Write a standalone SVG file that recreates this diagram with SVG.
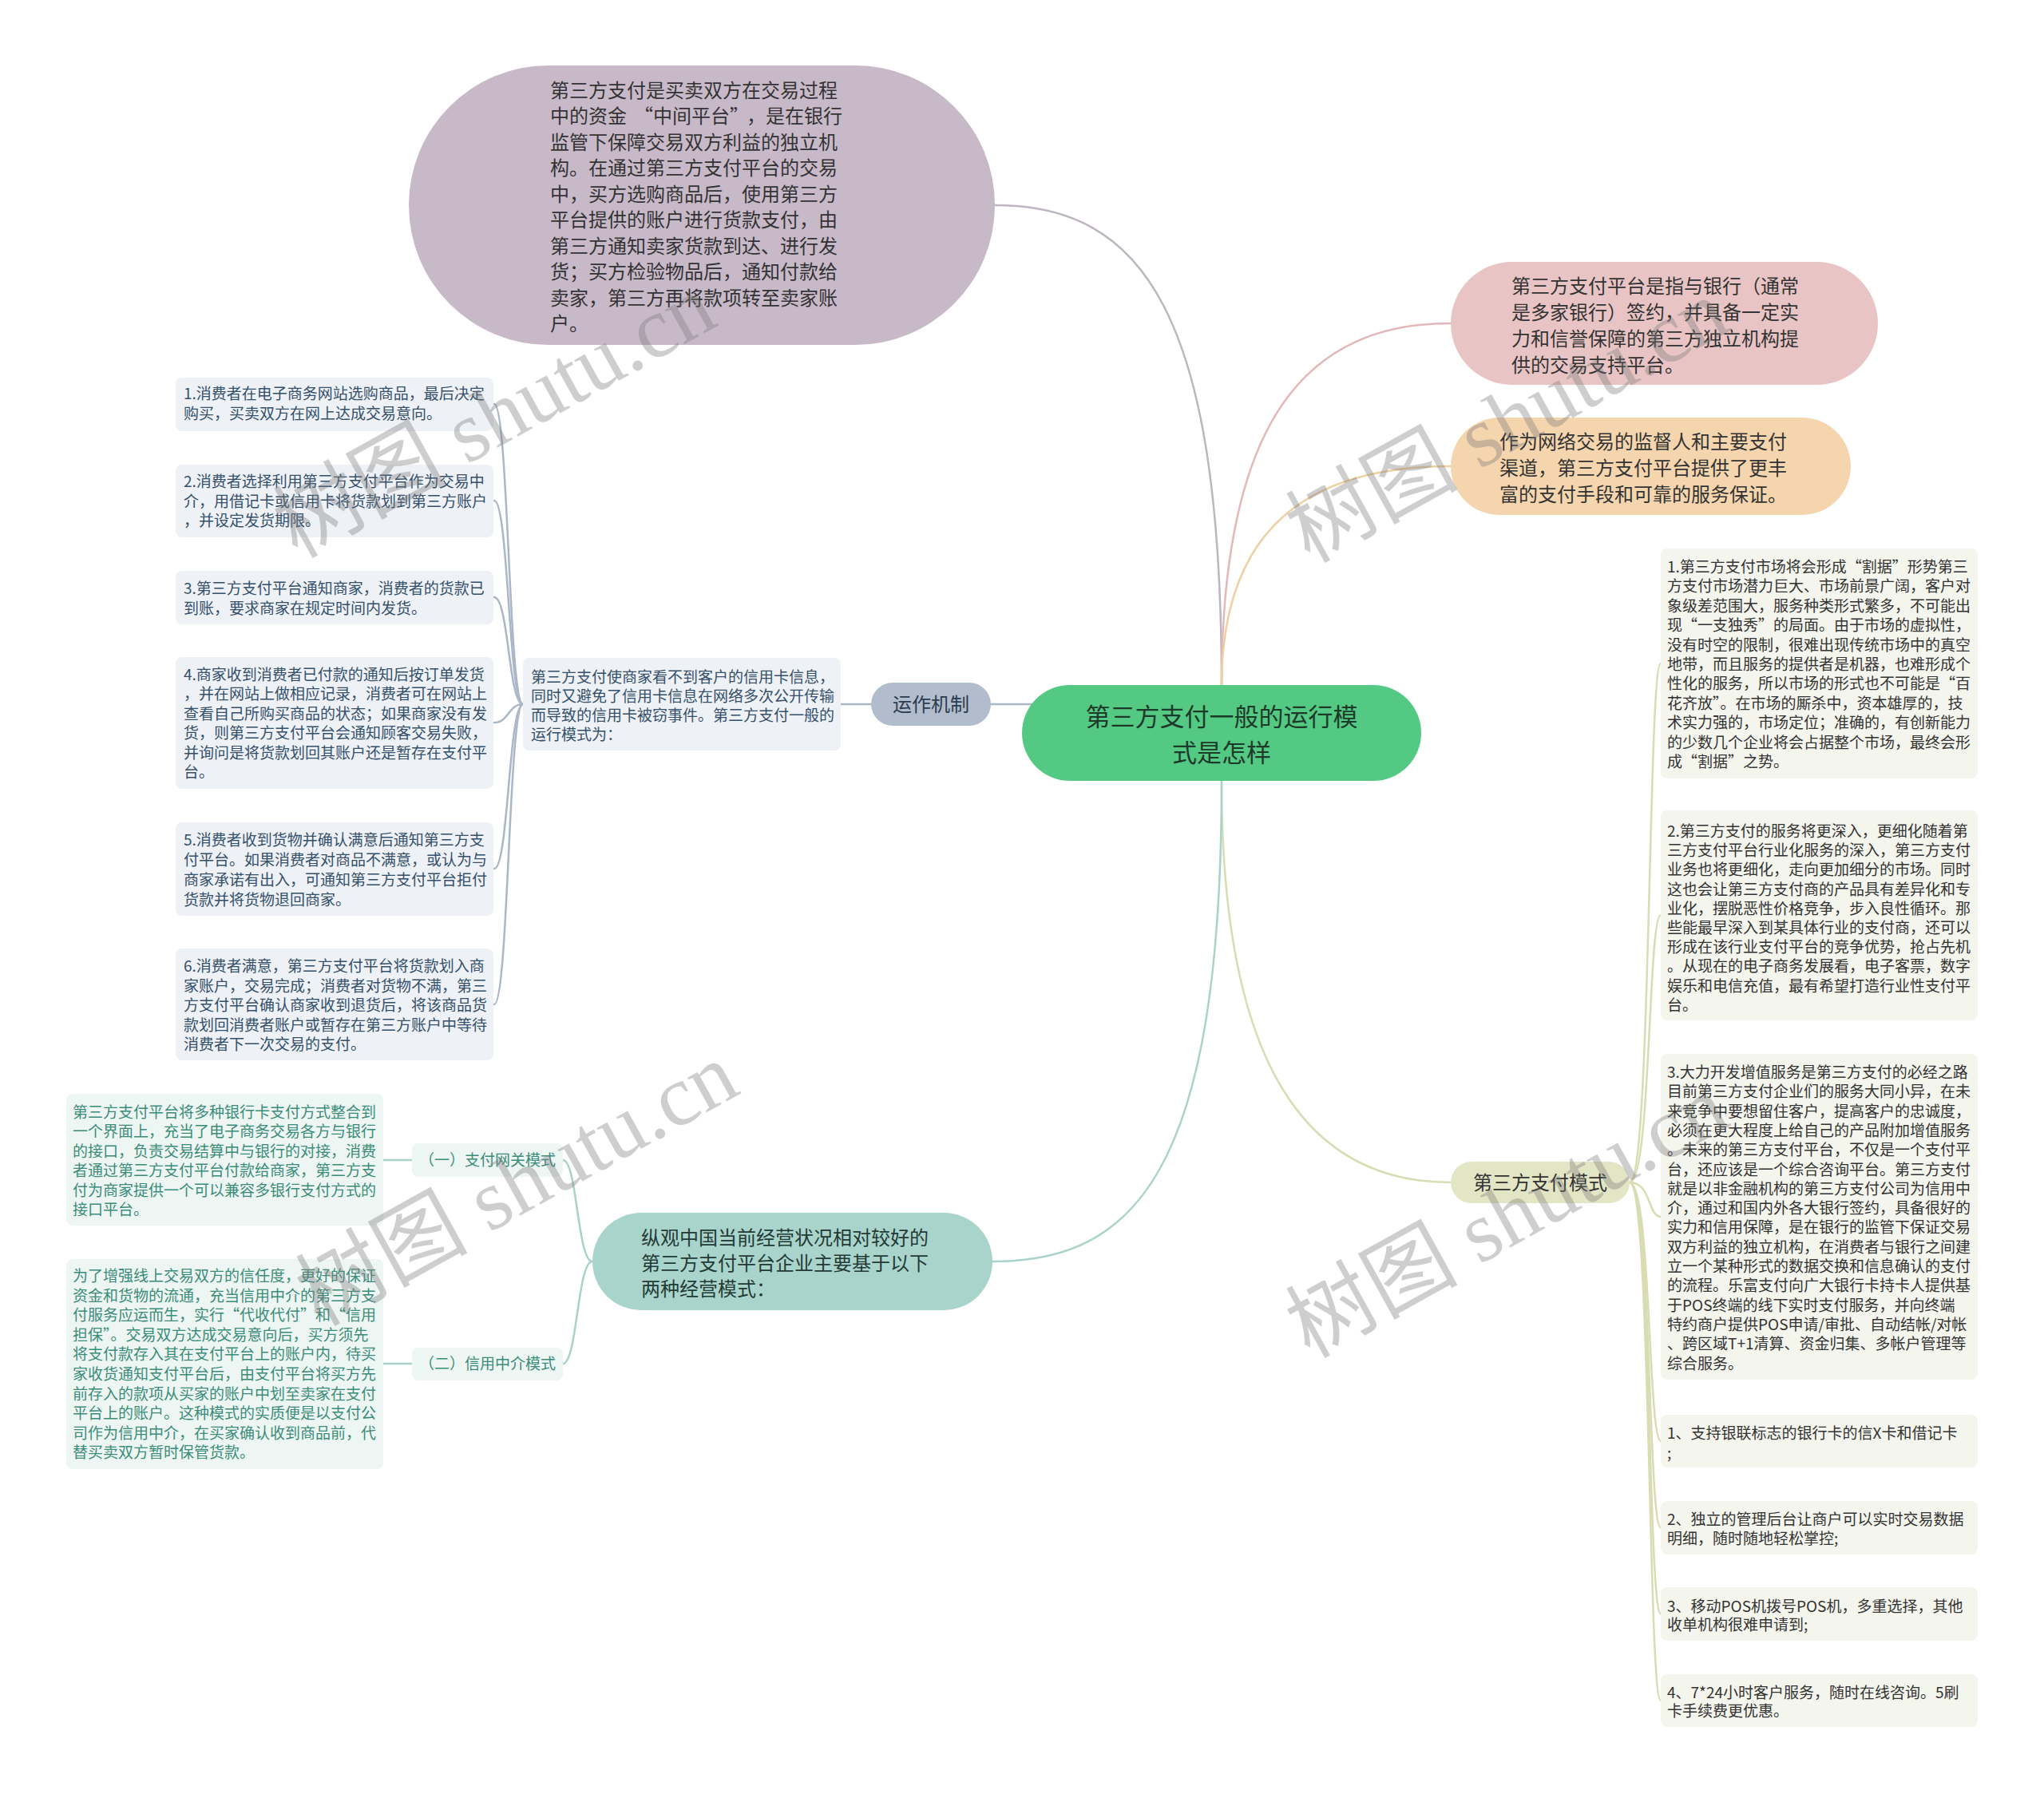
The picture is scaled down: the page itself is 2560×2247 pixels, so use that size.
<svg xmlns="http://www.w3.org/2000/svg" width="2560" height="2247" viewBox="0 0 2560 2247">
<style>
text{font-family:"Noto Sans CJK SC","Liberation Sans",sans-serif;}
.s19{font-size:19px;}
.s24{font-size:24px;}
.s31{font-size:31px;}
.dk{fill:#333333;}
.sl{fill:#34506b;}
.tl{fill:#3b8c79;}
.c{fill:none;stroke-width:2.5;stroke-linecap:round;}
.wm{font-family:"Liberation Serif","Noto Sans CJK SC",serif;font-size:108px;fill:#7a7a7a;opacity:0.36;}
</style>
<rect width="2560" height="2247" fill="#ffffff"/>
<g id="connectors">
  <path class="c" stroke="#bdb6c0" d="M1530,860 C1530,390 1430,257 1246,257"/>
  <path class="c" stroke="#e4b8b8" d="M1530,860 C1530,520 1640,405 1817,405"/>
  <path class="c" stroke="#efd0a4" d="M1530,860 C1530,660 1640,584 1817,584"/>
  <path class="c" stroke="#d9dcb2" d="M1530,978 C1530,1340 1640,1481 1817,1481"/>
  <path class="c" stroke="#a9d3ca" d="M1530,978 C1530,1470 1420,1580 1243,1580"/>
  <path class="c" stroke="#aab7c6" d="M1241,882 L1300,882"/>
  <path class="c" stroke="#aab7c6" d="M1091,882 L1053,882"/>
  <path class="c" stroke="#aab7c6" d="M655,882 C637,882 637,506 619,506"/>
  <path class="c" stroke="#aab7c6" d="M655,882 C637,882 637,627 619,627"/>
  <path class="c" stroke="#aab7c6" d="M655,882 C637,882 637,748 619,748"/>
  <path class="c" stroke="#aab7c6" d="M655,882 C637,882 637,905 619,905"/>
  <path class="c" stroke="#aab7c6" d="M655,882 C637,882 637,1088 619,1088"/>
  <path class="c" stroke="#aab7c6" d="M655,882 C637,882 637,1258 619,1258"/>
  <path class="c" stroke="#a9d3ca" d="M742,1580 C723,1580 723,1453 705,1453"/>
  <path class="c" stroke="#a9d3ca" d="M742,1580 C723,1580 723,1708 705,1708"/>
  <path class="c" stroke="#a9d3ca" d="M516,1453 L480,1453"/>
  <path class="c" stroke="#a9d3ca" d="M516,1708 L480,1708"/>
  <path class="c" stroke="#d9dcb2" d="M2041,1481 C2068,1481 2064,831 2080,831"/>
  <path class="c" stroke="#d9dcb2" d="M2041,1481 C2068,1481 2064,1146 2080,1146"/>
  <path class="c" stroke="#d9dcb2" d="M2041,1481 C2068,1481 2064,1524 2080,1524"/>
  <path class="c" stroke="#d9dcb2" d="M2041,1481 C2068,1481 2064,1805 2080,1805"/>
  <path class="c" stroke="#d9dcb2" d="M2041,1481 C2068,1481 2064,1913 2080,1913"/>
  <path class="c" stroke="#d9dcb2" d="M2041,1481 C2068,1481 2064,2021 2080,2021"/>
  <path class="c" stroke="#d9dcb2" d="M2041,1481 C2068,1481 2064,2130 2080,2130"/>
</g>

<g id="center">
  <rect x="1280" y="858" width="500" height="120" rx="60" fill="#53c983"/>
  <text class="s31" x="1530" y="908.5" text-anchor="middle" fill="#1d3a29">第三方支付一般的运行模</text>
  <text class="s31" x="1530" y="953.5" text-anchor="middle" fill="#1d3a29">式是怎样</text>
</g>

<g id="def-purple">
  <rect x="512" y="82" width="734" height="350" rx="175" fill="#c8b9c9"/>
  <g class="s24 dk">
    <text x="689" y="121.5">第三方支付是买卖双方在交易过程</text>
    <text x="689" y="154">中的资金<tspan dx="9">“</tspan>中间平台”<tspan dx="9">，</tspan>是在银行</text>
    <text x="689" y="186.5">监管下保障交易双方利益的独立机</text>
    <text x="689" y="219">构。在通过第三方支付平台的交易</text>
    <text x="689" y="251.5">中，买方选购商品后，使用第三方</text>
    <text x="689" y="284">平台提供的账户进行货款支付，由</text>
    <text x="689" y="316.5">第三方通知卖家货款到达、进行发</text>
    <text x="689" y="349">货；买方检验物品后，通知付款给</text>
    <text x="689" y="381.5">卖家，第三方再将款项转至卖家账</text>
    <text x="689" y="414">户。</text>
  </g>
</g>

<g id="def-pink">
  <rect x="1817" y="328" width="535" height="154" rx="77" fill="#e8c4c4"/>
  <g class="s24 dk">
    <text x="1893" y="366.5">第三方支付平台是指与银行（通常</text>
    <text x="1893" y="399.5">是多家银行）签约，并具备一定实</text>
    <text x="1893" y="432.5">力和信誉保障的第三方独立机构提</text>
    <text x="1893" y="465.5">供的交易支持平台。</text>
  </g>
</g>

<g id="def-orange">
  <rect x="1817" y="523" width="501" height="122" rx="61" fill="#f4d5ae"/>
  <g class="s24 dk">
    <text x="1878" y="561.5">作为网络交易的监督人和主要支付</text>
    <text x="1878" y="594.5">渠道，第三方支付平台提供了更丰</text>
    <text x="1878" y="627.5">富的支付手段和可靠的服务保证。</text>
  </g>
</g>

<g id="mechanism">
  <rect x="1091" y="855" width="150" height="54" rx="27" fill="#b1bdcc"/>
  <text class="s24" x="1166" y="890.5" text-anchor="middle" fill="#2b3c4e">运作机制</text>
</g>

<g id="mechanism-desc">
  <rect x="655" y="824" width="398" height="116" rx="8" fill="#eef1f5"/>
  <g class="s19 sl">
    <text x="665" y="855">第三方支付使商家看不到客户的信用卡信息，</text>
    <text x="665" y="879">同时又避免了信用卡信息在网络多次公开传输</text>
    <text x="665" y="903">而导致的信用卡被窃事件。第三方支付一般的</text>
    <text x="665" y="927">运行模式为：</text>
  </g>
</g>

<g id="step1">
  <rect x="220" y="473" width="398" height="67" rx="8" fill="#eef1f5"/>
  <g class="s19 sl">
    <text x="230" y="500">1.消费者在电子商务网站选购商品，最后决定</text>
    <text x="230" y="525">购买，买卖双方在网上达成交易意向。</text>
  </g>
</g>
<g id="step2">
  <rect x="220" y="582" width="398" height="91" rx="8" fill="#eef1f5"/>
  <g class="s19 sl">
    <text x="230" y="610">2.消费者选择利用第三方支付平台作为交易中</text>
    <text x="230" y="635">介，用借记卡或信用卡将货款划到第三方账户</text>
    <text x="230" y="659">，并设定发货期限。</text>
  </g>
</g>
<g id="step3">
  <rect x="220" y="715" width="398" height="67" rx="8" fill="#eef1f5"/>
  <g class="s19 sl">
    <text x="230" y="744">3.第三方支付平台通知商家，消费者的货款已</text>
    <text x="230" y="769">到账，要求商家在规定时间内发货。</text>
  </g>
</g>
<g id="step4">
  <rect x="220" y="823" width="398" height="165" rx="8" fill="#eef1f5"/>
  <g class="s19 sl">
    <text x="230" y="852">4.商家收到消费者已付款的通知后按订单发货</text>
    <text x="230" y="876.4">，并在网站上做相应记录，消费者可在网站上</text>
    <text x="230" y="900.8">查看自己所购买商品的状态；如果商家没有发</text>
    <text x="230" y="925.2">货，则第三方支付平台会通知顾客交易失败，</text>
    <text x="230" y="949.6">并询问是将货款划回其账户还是暂存在支付平</text>
    <text x="230" y="974">台。</text>
  </g>
</g>
<g id="step5">
  <rect x="220" y="1030" width="398" height="117" rx="8" fill="#eef1f5"/>
  <g class="s19 sl">
    <text x="230" y="1059">5.消费者收到货物并确认满意后通知第三方支</text>
    <text x="230" y="1084">付平台。如果消费者对商品不满意，或认为与</text>
    <text x="230" y="1109">商家承诺有出入，可通知第三方支付平台拒付</text>
    <text x="230" y="1134">货款并将货物退回商家。</text>
  </g>
</g>
<g id="step6">
  <rect x="220" y="1188" width="398" height="140" rx="8" fill="#eef1f5"/>
  <g class="s19 sl">
    <text x="230" y="1217">6.消费者满意，第三方支付平台将货款划入商</text>
    <text x="230" y="1241.5">家账户，交易完成；消费者对货物不满，第三</text>
    <text x="230" y="1266">方支付平台确认商家收到退货后，将该商品货</text>
    <text x="230" y="1290.5">款划回消费者账户或暂存在第三方账户中等待</text>
    <text x="230" y="1315">消费者下一次交易的支付。</text>
  </g>
</g>

<g id="models">
  <rect x="742" y="1519" width="501" height="122" rx="61" fill="#a9d4cb"/>
  <g class="s24" fill="#233a35">
    <text x="803" y="1558.5">纵观中国当前经营状况相对较好的</text>
    <text x="803" y="1590.5">第三方支付平台企业主要基于以下</text>
    <text x="803" y="1622.5">两种经营模式：</text>
  </g>
</g>

<g id="gateway-label">
  <rect x="516" y="1432" width="189" height="42" rx="8" fill="#edf6f3"/>
  <text class="s19 tl" x="610.5" y="1460" text-anchor="middle">（一）支付网关模式</text>
</g>
<g id="gateway-desc">
  <rect x="83" y="1370" width="397" height="165" rx="8" fill="#edf6f3"/>
  <g class="s19 tl">
    <text x="91" y="1400">第三方支付平台将多种银行卡支付方式整合到</text>
    <text x="91" y="1424.4">一个界面上，充当了电子商务交易各方与银行</text>
    <text x="91" y="1448.8">的接口，负责交易结算中与银行的对接，消费</text>
    <text x="91" y="1473.2">者通过第三方支付平台付款给商家，第三方支</text>
    <text x="91" y="1497.6">付为商家提供一个可以兼容多银行支付方式的</text>
    <text x="91" y="1522">接口平台。</text>
  </g>
</g>
<g id="credit-label">
  <rect x="516" y="1688" width="189" height="41" rx="8" fill="#edf6f3"/>
  <text class="s19 tl" x="610.5" y="1715" text-anchor="middle">（二）信用中介模式</text>
</g>
<g id="credit-desc">
  <rect x="83" y="1577" width="397" height="263" rx="8" fill="#edf6f3"/>
  <g class="s19 tl">
    <text x="91" y="1605">为了增强线上交易双方的信任度，更好的保证</text>
    <text x="91" y="1629.6">资金和货物的流通，充当信用中介的第三方支</text>
    <text x="91" y="1654.2">付服务应运而生，实行“代收代付”和“信用</text>
    <text x="91" y="1678.8">担保”。交易双方达成交易意向后，买方须先</text>
    <text x="91" y="1703.4">将支付款存入其在支付平台上的账户内，待买</text>
    <text x="91" y="1728">家收货通知支付平台后，由支付平台将买方先</text>
    <text x="91" y="1752.6">前存入的款项从买家的账户中划至卖家在支付</text>
    <text x="91" y="1777.2">平台上的账户。这种模式的实质便是以支付公</text>
    <text x="91" y="1801.8">司作为信用中介，在买家确认收到商品前，代</text>
    <text x="91" y="1826.4">替买卖双方暂时保管货款。</text>
  </g>
</g>

<g id="pay-modes">
  <rect x="1817" y="1455" width="224" height="52" rx="26" fill="#e3e6c5"/>
  <text class="s24 dk" x="1929" y="1489.5" text-anchor="middle">第三方支付模式</text>
</g>

<g id="trend1">
  <rect x="2080" y="687" width="397" height="288" rx="8" fill="#f4f5ed"/>
  <g class="s19 dk">
    <text x="2088" y="717">1.第三方支付市场将会形成“割据”形势第三</text>
    <text x="2088" y="741.4">方支付市场潜力巨大、市场前景广阔，客户对</text>
    <text x="2088" y="765.8">象级差范围大，服务种类形式繁多，不可能出</text>
    <text x="2088" y="790.2">现“一支独秀”的局面。由于市场的虚拟性，</text>
    <text x="2088" y="814.6">没有时空的限制，很难出现传统市场中的真空</text>
    <text x="2088" y="839">地带，而且服务的提供者是机器，也难形成个</text>
    <text x="2088" y="863.4">性化的服务，所以市场的形式也不可能是“百</text>
    <text x="2088" y="887.8">花齐放”。在市场的厮杀中，资本雄厚的，技</text>
    <text x="2088" y="912.2">术实力强的，市场定位；准确的，有创新能力</text>
    <text x="2088" y="936.6">的少数几个企业将会占据整个市场，最终会形</text>
    <text x="2088" y="961">成“割据”之势。</text>
  </g>
</g>
<g id="trend2">
  <rect x="2080" y="1015" width="397" height="263" rx="8" fill="#f4f5ed"/>
  <g class="s19 dk">
    <text x="2088" y="1048">2.第三方支付的服务将更深入，更细化随着第</text>
    <text x="2088" y="1072.2">三方支付平台行业化服务的深入，第三方支付</text>
    <text x="2088" y="1096.4">业务也将更细化，走向更加细分的市场。同时</text>
    <text x="2088" y="1120.6">这也会让第三方支付商的产品具有差异化和专</text>
    <text x="2088" y="1144.8">业化，摆脱恶性价格竞争，步入良性循环。那</text>
    <text x="2088" y="1169">些能最早深入到某具体行业的支付商，还可以</text>
    <text x="2088" y="1193.2">形成在该行业支付平台的竞争优势，抢占先机</text>
    <text x="2088" y="1217.4">。从现在的电子商务发展看，电子客票，数字</text>
    <text x="2088" y="1241.6">娱乐和电信充值，最有希望打造行业性支付平</text>
    <text x="2088" y="1265.8">台。</text>
  </g>
</g>
<g id="trend3">
  <rect x="2080" y="1320" width="397" height="408" rx="8" fill="#f4f5ed"/>
  <g class="s19 dk">
    <text x="2088" y="1350">3.大力开发增值服务是第三方支付的必经之路</text>
    <text x="2088" y="1374.3">目前第三方支付企业们的服务大同小异，在未</text>
    <text x="2088" y="1398.6">来竞争中要想留住客户，提高客户的忠诚度，</text>
    <text x="2088" y="1422.9">必须在更大程度上给自己的产品附加增值服务</text>
    <text x="2088" y="1447.2">。未来的第三方支付平台，不仅是一个支付平</text>
    <text x="2088" y="1471.5">台，还应该是一个综合咨询平台。第三方支付</text>
    <text x="2088" y="1495.8">就是以非金融机构的第三方支付公司为信用中</text>
    <text x="2088" y="1520.1">介，通过和国内外各大银行签约，具备很好的</text>
    <text x="2088" y="1544.4">实力和信用保障，是在银行的监管下保证交易</text>
    <text x="2088" y="1568.7">双方利益的独立机构，在消费者与银行之间建</text>
    <text x="2088" y="1593">立一个某种形式的数据交换和信息确认的支付</text>
    <text x="2088" y="1617.3">的流程。乐富支付向广大银行卡持卡人提供基</text>
    <text x="2088" y="1641.6">于POS终端的线下实时支付服务，并向终端</text>
    <text x="2088" y="1665.9">特约商户提供POS申请/审批、自动结帐/对帐</text>
    <text x="2088" y="1690.2">、跨区域T+1清算、资金归集、多帐户管理等</text>
    <text x="2088" y="1714.5">综合服务。</text>
  </g>
</g>
<g id="feature1">
  <rect x="2080" y="1772" width="397" height="66" rx="8" fill="#f4f5ed"/>
  <g class="s19 dk">
    <text x="2088" y="1802">1、支持银联标志的银行卡的信X卡和借记卡</text>
    <text x="2088" y="1827">;</text>
  </g>
</g>
<g id="feature2">
  <rect x="2080" y="1880" width="397" height="67" rx="8" fill="#f4f5ed"/>
  <g class="s19 dk">
    <text x="2088" y="1910">2、独立的管理后台让商户可以实时交易数据</text>
    <text x="2088" y="1934">明细，随时随地轻松掌控;</text>
  </g>
</g>
<g id="feature3">
  <rect x="2080" y="1988" width="397" height="67" rx="8" fill="#f4f5ed"/>
  <g class="s19 dk">
    <text x="2088" y="2019">3、移动POS机拨号POS机，多重选择，其他</text>
    <text x="2088" y="2042">收单机构很难申请到;</text>
  </g>
</g>
<g id="feature4">
  <rect x="2080" y="2097" width="397" height="66" rx="8" fill="#f4f5ed"/>
  <g class="s19 dk">
    <text x="2088" y="2127">4、7*24小时客户服务，随时在线咨询。5刷</text>
    <text x="2088" y="2150">卡手续费更优惠。</text>
  </g>
</g>

<g id="watermark">
  <text class="wm" transform="translate(372,700) rotate(-29)">树图 shutu.cn</text>
  <text class="wm" transform="translate(400,1662) rotate(-29)">树图 shutu.cn</text>
  <text class="wm" transform="translate(1640,706) rotate(-29)">树图 shutu.cn</text>
  <text class="wm" transform="translate(1640,1702) rotate(-29)">树图 shutu.cn</text>
</g>
</svg>
